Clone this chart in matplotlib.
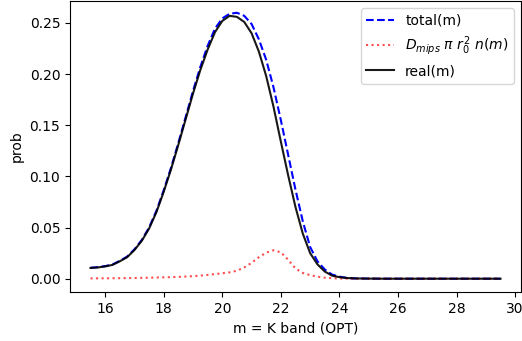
import matplotlib
matplotlib.use("Agg")
import matplotlib.pyplot as plt
import numpy as np

m = [15.5, 15.75, 16.0, 16.25, 16.5, 16.75, 17.0, 17.25, 17.5, 17.75, 18.0, 18.25,
     18.5, 18.75, 19.0, 19.25, 19.5, 19.75, 20.0, 20.25, 20.5, 20.75, 21.0, 21.25,
     21.5, 21.75, 22.0, 22.25, 22.5, 22.75, 23.0, 23.25, 23.5, 23.75, 24.0, 24.25,
     24.5, 25.0, 25.5, 26.0, 26.5, 27.0, 27.5, 28.0, 28.5, 29.0, 29.5]

real = [0.0105, 0.011, 0.012, 0.0135, 0.017, 0.021, 0.028, 0.037, 0.049, 0.065, 0.085, 0.107,
        0.131, 0.156, 0.181, 0.204, 0.224, 0.241, 0.252, 0.257, 0.256, 0.251, 0.240, 0.222,
        0.198, 0.168, 0.134, 0.101, 0.070, 0.044, 0.025, 0.014, 0.007, 0.003, 0.0015, 0.0007,
        0.0003, 0.0001, 0.0, 0.0, 0.0, 0.0, 0.0, 0.0, 0.0, 0.0, 0.0]

total = [0.0107, 0.0113, 0.0123, 0.0139, 0.0175, 0.0216, 0.0287, 0.0378, 0.050, 0.0663, 0.0865, 0.1085,
         0.1328, 0.1581, 0.1835, 0.207, 0.2277, 0.2445, 0.2545, 0.259, 0.260, 0.257, 0.249, 0.234,
         0.214, 0.187, 0.155, 0.121, 0.087, 0.056, 0.031, 0.017, 0.009, 0.004, 0.002, 0.0008,
         0.0003, 0.0001, 0.0, 0.0, 0.0, 0.0, 0.0, 0.0, 0.0, 0.0, 0.0]

dmips = [0.0003, 0.00035, 0.0004, 0.00045, 0.0005, 0.0006, 0.0007, 0.00085, 0.001, 0.0012, 0.0013, 0.0015,
         0.0018, 0.0021, 0.0025, 0.003, 0.0037, 0.0045, 0.0053, 0.0062, 0.0078, 0.011, 0.0155, 0.021,
         0.0255, 0.0278, 0.0258, 0.0185, 0.0100, 0.0056, 0.0035, 0.002, 0.001, 0.0005, 0.0002, 0.0001,
         0.00005, 0.0, 0.0, 0.0, 0.0, 0.0, 0.0, 0.0, 0.0, 0.0, 0.0]

W, H = 522, 341
fig = plt.figure(figsize=(W / 100, H / 100), dpi=100)
ax = fig.add_axes([70 / W, (H - 292) / H, (521 - 70) / W, (292 - 1) / H])

ax.plot(m, total, color='blue', linestyle='--', lw=1.5, label='total(m)')
ax.plot(m, dmips, color='red', linestyle=':', lw=1.5, alpha=0.7,
        label=r'$D_{mips}\ \pi\ r_0^2\ n(m)$')
ax.plot(m, real, color='black', lw=1.5, alpha=0.9, label='real(m)')

ax.set_xlim(14.8, 30.2)
ax.set_ylim(-0.013, 0.2715)
ax.set_xticks([16, 18, 20, 22, 24, 26, 28, 30])
ax.set_yticks([0.0, 0.05, 0.10, 0.15, 0.20, 0.25])
ax.yaxis.set_major_formatter(matplotlib.ticker.FormatStrFormatter('%.2f'))
ax.set_xlabel('m = K band (OPT)')
ax.set_ylabel('prob')
ax.legend(loc='upper right')

fig.savefig('out.png', dpi=100)
